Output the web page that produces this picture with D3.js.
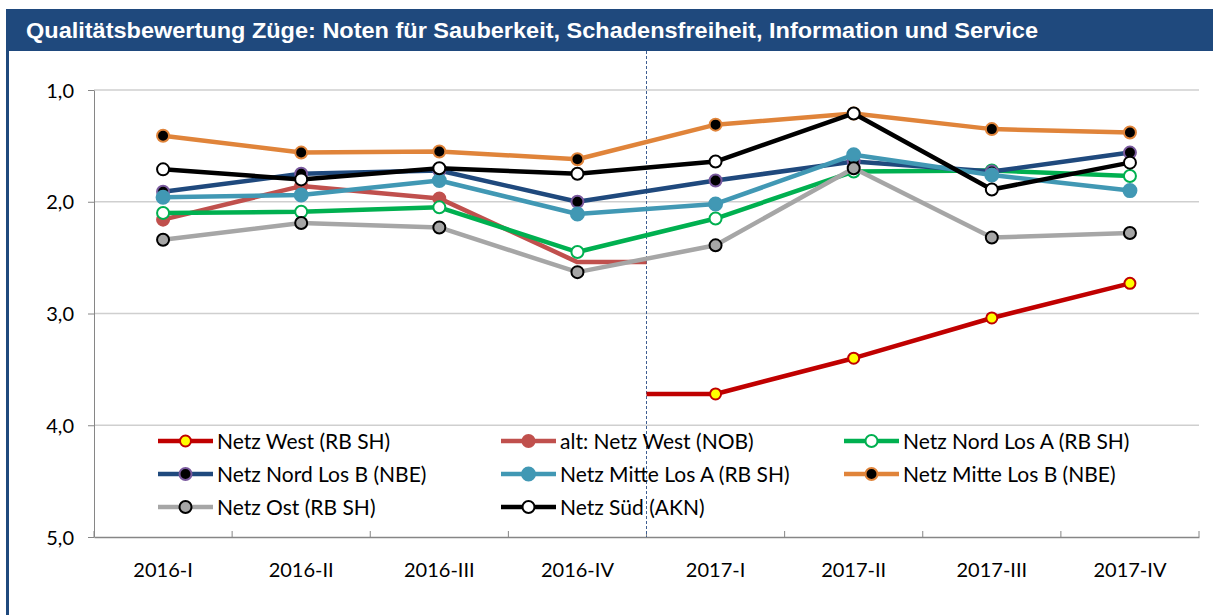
<!DOCTYPE html>
<html>
<head>
<meta charset="utf-8">
<script src="https://cdn.jsdelivr.net/npm/d3@7"></script>
<style>
    body { margin: 0; background: #fff; }
    svg { display: block; }
    .axis path, .axis line { stroke: #868686; }
    .axis text { font-family: Lato, "Open Sans", sans-serif; font-size: 20px; fill: #000; }
</style>
</head>
<body>
<svg id="chart" width="1213" height="615"></svg>
<script>
"use strict";

// Quartale
const quarters = ["2016-I", "2016-II", "2016-III", "2016-IV", "2017-I", "2017-II", "2017-III", "2017-IV"];
const yTicks = [1, 2, 3, 4, 5];

// Noten je Netz (null = kein Wert)
const netzWest     = [null, null, null, null, 3.72, 3.40, 3.04, 2.73];
const altNetzWest  = [2.16, 1.86, 1.97, 2.54, null, null, null, null];
const nordLosA     = [2.10, 2.09, 2.05, 2.45, 2.15, 1.73, 1.72, 1.77];
const nordLosB     = [1.91, 1.75, 1.72, 2.00, 1.81, 1.64, 1.73, 1.56];
const mitteLosA    = [1.96, 1.94, 1.81, 2.11, 2.02, 1.58, 1.76, 1.90];
const mitteLosB    = [1.41, 1.56, 1.55, 1.62, 1.31, 1.21, 1.35, 1.38];
const netzOst      = [2.34, 2.19, 2.23, 2.63, 2.39, 1.70, 2.32, 2.28];
const netzSued     = [1.71, 1.80, 1.70, 1.75, 1.64, 1.21, 1.89, 1.65];

const series = [
    { name: "Netz West (RB SH)", values: netzWest, line: "#C00000", fill: "#FFFF00", edge: "#C00000", r: 5.5, bridge: "start" },
    { name: "alt: Netz West (NOB)", values: altNetzWest, line: "#C0504D", fill: "#C0504D", edge: "#C0504D", r: 6, bridge: "end", noLastMarker: true },
    { name: "Netz Nord Los A (RB SH)", values: nordLosA, line: "#00B050", fill: "#FFFFFF", edge: "#00B050", r: 6 },
    { name: "Netz Nord Los B (NBE)", values: nordLosB, line: "#1F497D", fill: "#000000", edge: "#7A5A9E", r: 6 },
    { name: "Netz Mitte Los A (RB SH)", values: mitteLosA, line: "#4198B4", fill: "#4198B4", edge: "#4198B4", r: 6.5 },
    { name: "Netz Mitte Los B (NBE)", values: mitteLosB, line: "#E0843A", fill: "#000000", edge: "#E0843A", r: 6 },
    { name: "Netz Ost (RB SH)", values: netzOst, line: "#A6A6A6", fill: "#A6A6A6", edge: "#000000", r: 6 },
    { name: "Netz Süd (AKN)", values: netzSued, line: "#000000", fill: "#FFFFFF", edge: "#000000", r: 6 }
];

const svg = d3.select("#chart");
const width = 1213, height = 615;
const plot = { left: 94, right: 1199, top: 90, bottom: 537 };

svg.append("rect").attr("width", width).attr("height", height).attr("fill", "#fff");

// Titelbalken und Rahmen
svg.append("rect")
    .attr("x", 6).attr("y", 9)
    .attr("width", width - 6).attr("height", 42)
    .attr("fill", "#1F497D");
svg.append("rect")
    .attr("x", 6).attr("y", 9)
    .attr("width", 3).attr("height", height - 9)
    .attr("fill", "#1F497D");
svg.append("text")
    .attr("x", 26).attr("y", 38)
    .attr("fill", "#fff")
    .attr("textLength", 1012)
    .attr("lengthAdjust", "spacingAndGlyphs")
    .style("font-family", "'Liberation Sans', Arial, sans-serif")
    .style("font-weight", "bold")
    .style("font-size", "22px")
    .text("Qualitätsbewertung Züge: Noten für Sauberkeit, Schadensfreiheit, Information und Service");

const x = d3.scaleBand().domain(quarters).range([plot.left, plot.right]);
const y = d3.scaleLinear().domain([1, 5]).range([plot.top, plot.bottom]);
const xc = q => x(q) + x.bandwidth() / 2;

// Gitterlinien
svg.append("g").selectAll("line")
    .data(yTicks.slice(0, -1))
    .enter()
    .append("line")
    .attr("x1", plot.left).attr("x2", plot.right)
    .attr("y1", d => y(d)).attr("y2", d => y(d))
    .attr("stroke", "#CFCFCF")
    .attr("stroke-width", 1.5);

// Achsen
svg.append("g")
    .attr("class", "axis")
    .attr("transform", "translate(" + plot.left + ",0)")
    .call(d3.axisLeft(y).tickValues(yTicks).tickSize(6).tickSizeOuter(0).tickPadding(14)
        .tickFormat(d => d3.format(".1f")(d).replace(".", ",")))
    .call(g => g.selectAll("text").attr("dy", "0.36em"));

const xAxis = svg.append("g")
    .attr("class", "axis")
    .attr("transform", "translate(0," + plot.bottom + ")")
    .call(d3.axisBottom(x).tickSize(0).tickPadding(26));
xAxis.select(".domain").attr("stroke-width", 1.5);
xAxis.selectAll(".tick line").remove();
// Teilstriche an den Kategoriegrenzen
xAxis.selectAll(".bound")
    .data(d3.range(quarters.length + 1))
    .enter()
    .append("line")
    .attr("x1", i => plot.left + i * x.step())
    .attr("x2", i => plot.left + i * x.step())
    .attr("y1", 0).attr("y2", -6)
    .attr("stroke", "#868686");

// Trennlinie zwischen 2016 und 2017
const splitX = x(quarters[4]);
svg.append("line")
    .attr("x1", splitX).attr("x2", splitX)
    .attr("y1", 51).attr("y2", plot.bottom)
    .attr("stroke", "#3F5F92")
    .attr("stroke-width", 1)
    .attr("stroke-dasharray", "3,2");

// Linien und Marker
const line = d3.line().x(d => d.x).y(d => d.y);
series.forEach(s => {
    const pts = quarters.map((q, i) => ({ x: xc(q), y: s.values[i] === null ? null : y(s.values[i]) }))
        .filter(p => p.y !== null);
    let path = pts.slice();
    if (s.bridge === "end") path.push({ x: splitX, y: pts[pts.length - 1].y });
    if (s.bridge === "start") path.unshift({ x: splitX, y: pts[0].y });
    svg.append("path")
        .attr("d", line(path))
        .attr("fill", "none")
        .attr("stroke", s.line)
        .attr("stroke-width", 4.5)
        .attr("stroke-linejoin", "round");
    const marks = s.noLastMarker ? pts.slice(0, -1) : pts;
    svg.append("g").selectAll("circle")
        .data(marks)
        .enter()
        .append("circle")
        .attr("cx", d => d.x).attr("cy", d => d.y)
        .attr("r", s.r)
        .attr("fill", s.fill)
        .attr("stroke", s.edge)
        .attr("stroke-width", 2);
});

// Legende
const legend = svg.append("g");
const item = legend.selectAll(".item")
    .data(series)
    .enter()
    .append("g")
    .attr("class", "item")
    .attr("transform", (d, i) => "translate(" + (158 + (i % 3) * 343) + "," + (441 + Math.floor(i / 3) * 33) + ")");
item.append("line")
    .attr("x1", 0).attr("x2", 55)
    .attr("stroke", d => d.line)
    .attr("stroke-width", 4.5);
item.append("circle")
    .attr("cx", 27.5)
    .attr("r", d => d.r)
    .attr("fill", d => d.fill)
    .attr("stroke", d => d.edge)
    .attr("stroke-width", 2);
item.append("text")
    .attr("x", 59)
    .attr("dy", "0.36em")
    .style("font-family", "Lato, 'Open Sans', sans-serif")
    .style("font-size", "21px")
    .text(d => d.name);
</script>
</body>
</html>
